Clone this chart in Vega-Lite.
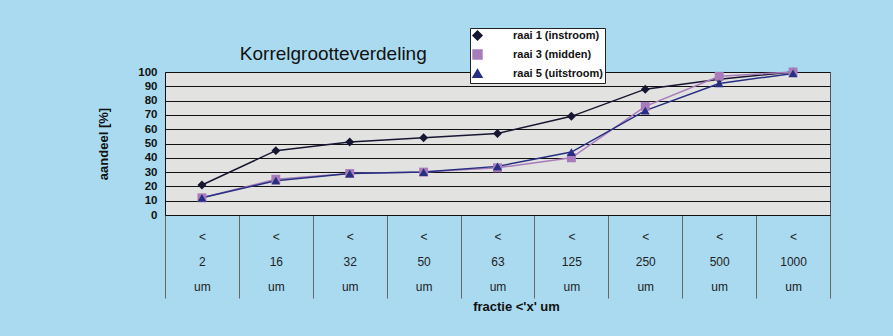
{
  "$schema": "https://vega.github.io/schema/vega-lite/v6.json",
  "width": 665,
  "height": 143,
  "autosize": {"type": "none"},
  "padding": {"left": 165, "top": 72, "right": 63, "bottom": 121},
  "background": "#a9daf0",
  "config": {
    "font": "Liberation Sans",
    "view": {"fill": "#e2e2e0", "stroke": "#555555", "strokeWidth": 1}
  },
  "title": {
    "text": "Korrelgrootteverdeling",
    "anchor": "start",
    "dx": 142,
    "fontSize": 19,
    "fontWeight": "normal",
    "color": "#111111",
    "offset": -36
  },
  "data": {
    "values": [
      {"fractie": "2", "raai": "raai 1 (instroom)", "aandeel": 21},
      {"fractie": "16", "raai": "raai 1 (instroom)", "aandeel": 45},
      {"fractie": "32", "raai": "raai 1 (instroom)", "aandeel": 51},
      {"fractie": "50", "raai": "raai 1 (instroom)", "aandeel": 54},
      {"fractie": "63", "raai": "raai 1 (instroom)", "aandeel": 57},
      {"fractie": "125", "raai": "raai 1 (instroom)", "aandeel": 69},
      {"fractie": "250", "raai": "raai 1 (instroom)", "aandeel": 88},
      {"fractie": "500", "raai": "raai 1 (instroom)", "aandeel": 95},
      {"fractie": "1000", "raai": "raai 1 (instroom)", "aandeel": 100},
      {"fractie": "2", "raai": "raai 3 (midden)", "aandeel": 12},
      {"fractie": "16", "raai": "raai 3 (midden)", "aandeel": 25},
      {"fractie": "32", "raai": "raai 3 (midden)", "aandeel": 29},
      {"fractie": "50", "raai": "raai 3 (midden)", "aandeel": 30},
      {"fractie": "63", "raai": "raai 3 (midden)", "aandeel": 33},
      {"fractie": "125", "raai": "raai 3 (midden)", "aandeel": 40},
      {"fractie": "250", "raai": "raai 3 (midden)", "aandeel": 76},
      {"fractie": "500", "raai": "raai 3 (midden)", "aandeel": 97},
      {"fractie": "1000", "raai": "raai 3 (midden)", "aandeel": 100},
      {"fractie": "2", "raai": "raai 5 (uitstroom)", "aandeel": 12},
      {"fractie": "16", "raai": "raai 5 (uitstroom)", "aandeel": 24},
      {"fractie": "32", "raai": "raai 5 (uitstroom)", "aandeel": 29},
      {"fractie": "50", "raai": "raai 5 (uitstroom)", "aandeel": 30},
      {"fractie": "63", "raai": "raai 5 (uitstroom)", "aandeel": 34},
      {"fractie": "125", "raai": "raai 5 (uitstroom)", "aandeel": 44},
      {"fractie": "250", "raai": "raai 5 (uitstroom)", "aandeel": 73},
      {"fractie": "500", "raai": "raai 5 (uitstroom)", "aandeel": 92},
      {"fractie": "1000", "raai": "raai 5 (uitstroom)", "aandeel": 99}
    ]
  },
  "encoding": {
    "x": {
      "field": "fractie",
      "type": "ordinal",
      "sort": null,
      "bandPosition": 0.5,
      "scale": {"type": "band", "paddingInner": 0, "paddingOuter": 0},
      "axis": {
        "title": "fractie <'x' um",
        "titleFontSize": 13,
        "titleFontWeight": "bold",
        "titleColor": "#111111",
        "titlePadding": 2,
        "titleX": 351,
        "labelAngle": 0,
        "labelFontSize": 12,
        "labelColor": "#222222",
        "labelExpr": "datum.label ? ['<', datum.label, 'um'] : ''",
        "labelLineHeight": 25,
        "labelPadding": -67,
        "tickBand": "extent",
        "tickSize": 83,
        "tickColor": "#666666",
        "domainColor": "#111111",
        "grid": false
      }
    },
    "y": {
      "field": "aandeel",
      "type": "quantitative",
      "scale": {"domain": [0, 100]},
      "axis": {
        "title": "aandeel [%]",
        "titleFontSize": 13,
        "titleFontWeight": "bold",
        "titleColor": "#111111",
        "titlePadding": 27,
        "values": [0, 10, 20, 30, 40, 50, 60, 70, 80, 90, 100],
        "labelFontSize": 11.5,
        "labelFontWeight": "bold",
        "labelColor": "#111111",
        "labelPadding": 8,
        "ticks": false,
        "domainColor": "#111111",
        "grid": true,
        "gridColor": "#111111",
        "gridOpacity": 1,
        "gridWidth": 1
      }
    },
    "color": {
      "field": "raai",
      "type": "nominal",
      "scale": {
        "domain": ["raai 1 (instroom)", "raai 3 (midden)", "raai 5 (uitstroom)"],
        "range": ["#161632", "#a87cba", "#262f82"]
      },
      "legend": {
        "title": null,
        "orient": "none",
        "legendX": 305,
        "legendY": -44,
        "padding": 2,
        "rowPadding": 4,
        "fillColor": "#ffffff",
        "strokeColor": "#222222",
        "labelFontSize": 11,
        "labelFontWeight": "bold",
        "labelColor": "#111111",
        "symbolSize": 80,
        "symbolOpacity": 1,
        "labelOffset": 30
      }
    }
  },
  "layer": [
    {
      "mark": {"type": "line", "strokeWidth": 1.5}
    },
    {
      "mark": {"type": "point", "filled": true, "size": 80, "opacity": 1},
      "encoding": {
        "shape": {
          "field": "raai",
          "type": "nominal",
          "scale": {
            "domain": ["raai 1 (instroom)", "raai 3 (midden)", "raai 5 (uitstroom)"],
            "range": ["diamond", "square", "triangle-up"]
          },
          "legend": null
        }
      }
    }
  ]
}
